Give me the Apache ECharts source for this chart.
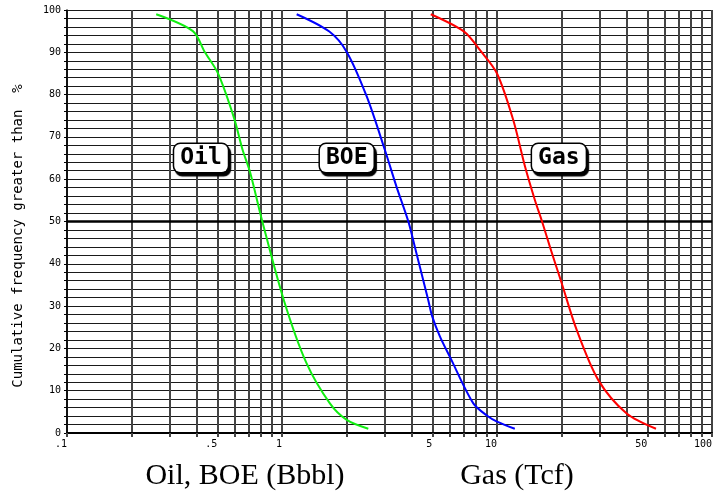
<!DOCTYPE html>
<html>
<head>
<meta charset="utf-8">
<script src="https://cdn.jsdelivr.net/npm/echarts@6/dist/echarts.min.js"></script>
<style>html,body{margin:0;padding:0;background:#fff}#c{width:725px;height:495px}</style>
</head>
<body>
<div id="c"></div>
<script>
// ---- data ----
var oilX = [0.26, 0.385, 0.438, 0.504, 0.598, 0.656, 0.71, 0.81, 1.02, 1.30, 1.67, 2.0, 2.52];
var oilY = [99, 95, 90, 85, 74.5, 66.9, 61.7, 50, 31.4, 16.5, 7.0, 3.1, 1.0];
var boeX = [1.17, 1.66, 2.0, 2.48, 3.01, 3.41, 3.87, 4.18, 4.79, 5.0, 5.43, 6.04, 7.76, 9.1, 10.0, 12.1];
var boeY = [99, 94.9, 90.1, 79.5, 66.9, 58.2, 50, 43.3, 31.4, 27.5, 22.8, 18.0, 7.0, 3.9, 2.7, 1.0];
var gasX = [4.92, 7.03, 8.34, 10.0, 11.9, 13.5, 15.0, 16.2, 17.7, 20.0, 23.5, 29.6, 40.1, 54.9];
var gasY = [99, 94.9, 90.5, 85, 74, 63, 55.1, 50, 43.7, 35.4, 24.3, 12.5, 4.6, 1.0];
var xGridValues = [0.1,0.2,0.3,0.4,0.5,0.6,0.7,0.8,0.9,1,2,3,4,5,6,7,8,9,10,20,30,40,50,60,70,80,90,100];
var xTickValues = [0.1, 0.5, 1, 5, 10, 50, 100];
var xTickLabels = ['.1', '.5', '1', '5', '10', '50', '100'];
var yTickValues = [0,10,20,30,40,50,60,70,80,90,100];
var seriesNames = ['Oil', 'BOE', 'Gas'];
var yAxisTitle = 'Cumulative frequency greater than  %';
var xTitleLeft = 'Oil, BOE (Bbbl)';
var xTitleRight = 'Gas (Tcf)';

function pairs(xs, ys) { return xs.map(function (x, i) { return [x, ys[i]]; }); }

var boxLabel = {
  show: true, position: 'inside',
  fontFamily: 'DejaVu Sans Mono', fontWeight: 'bold', fontSize: 23, color: '#000',
  backgroundColor: '#fff', borderColor: '#000', borderWidth: 1.5, borderRadius: 6,
  padding: [3, 6, 2, 6],
  shadowColor: '#000', shadowBlur: 1, shadowOffsetX: 2, shadowOffsetY: 3
};
function mk(name, coord) {
  return {
    symbol: 'rect', symbolSize: 0, silent: true,
    label: Object.assign({}, boxLabel, { formatter: name }),
    data: [{ coord: coord }]
  };
}
var curveCommon = { type: 'line', smooth: 0.3, showSymbol: false, z: 5 };

var chart = echarts.init(document.getElementById('c'), null, { renderer: 'canvas' });
chart.setOption({
  animation: false,
  backgroundColor: '#fff',
  grid: { left: 67, right: 13, top: 10, bottom: 62 },
  xAxis: {
    type: 'log', logBase: 10, min: 0.1, max: 100,
    axisLine: { lineStyle: { color: '#000', width: 2 } },
    axisTick: { show: true, customValues: xGridValues, length: 4, lineStyle: { color: '#444', width: 2 } },
    axisLabel: {
      customValues: xTickValues, align: 'right', margin: 6,
      fontFamily: 'DejaVu Sans Mono', fontSize: 10, color: '#000',
      formatter: function (v) {
        var i = xTickValues.findIndex(function (t) { return Math.abs(t - v) < 1e-6 * t; });
        return i >= 0 ? xTickLabels[i] : '';
      }
    },
    splitLine: { show: true, lineStyle: { color: '#444', width: 2 } }
  },
  yAxis: {
    type: 'value', min: 0, max: 100, interval: 2,
    axisLine: { show: true, lineStyle: { color: '#000', width: 1.5 } },
    axisTick: { show: true, length: 3, lineStyle: { color: '#000', width: 1 } },
    axisLabel: {
      customValues: yTickValues, margin: 6,
      fontFamily: 'DejaVu Sans Mono', fontSize: 10, color: '#000'
    },
    splitLine: { show: true, lineStyle: { color: '#1a1a1a', width: 1.1 } }
  },
  graphic: [
    { type: 'text', x: 18, y: 236, rotation: Math.PI / 2,
      style: { text: yAxisTitle, font: '14px "DejaVu Sans Mono"', fill: '#000', align: 'center', verticalAlign: 'middle' } },
    { type: 'text', x: 245, y: 476,
      style: { text: xTitleLeft, font: '30px "Liberation Serif"', fill: '#000', align: 'center', verticalAlign: 'middle' } },
    { type: 'text', x: 517, y: 476,
      style: { text: xTitleRight, font: '30px "Liberation Serif"', fill: '#000', align: 'center', verticalAlign: 'middle' } }
  ],
  series: [
    Object.assign({}, curveCommon, { name: seriesNames[0], data: pairs(oilX, oilY),
      lineStyle: { color: '#11ee11', width: 2 },
      markPoint: mk(seriesNames[0], [0.42, 65]),
      markLine: { silent: true, symbol: 'none', label: { show: false },
        lineStyle: { color: '#000', width: 2.5, type: 'solid' }, data: [{ yAxis: 50 }] } }),
    Object.assign({}, curveCommon, { name: seriesNames[1], data: pairs(boeX, boeY),
      lineStyle: { color: '#0000ff', width: 2 },
      markPoint: mk(seriesNames[1], [2.0, 65]) }),
    Object.assign({}, curveCommon, { name: seriesNames[2], data: pairs(gasX, gasY),
      lineStyle: { color: '#ff0000', width: 2 },
      markPoint: mk(seriesNames[2], [19.4, 65]) })
  ]
});
</script>
</body>
</html>
